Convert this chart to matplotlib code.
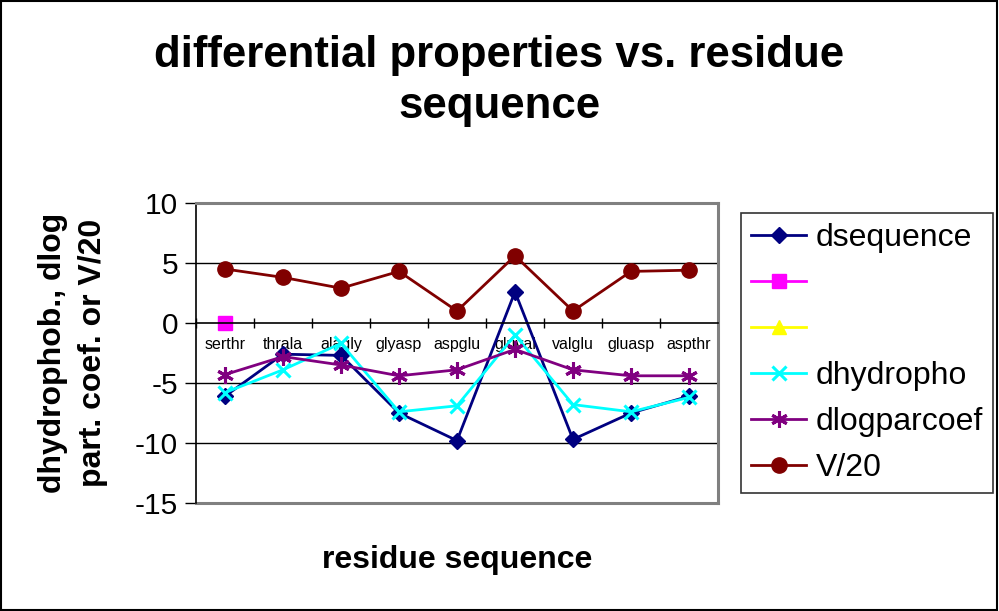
import numpy as np
import matplotlib
matplotlib.use('Agg')
import matplotlib.pyplot as plt
from matplotlib.patches import Rectangle

plt.rcParams['font.family'] = ['Liberation Sans', 'DejaVu Sans']
plt.rcParams['axes.unicode_minus'] = False

# данные
categories = ['serthr', 'thrala', 'alagly', 'glyasp', 'aspglu',
              'gluval', 'valglu', 'gluasp', 'aspthr']
dsequence = [-6.1, -2.6, -2.7, -7.5, -9.8, 2.6, -9.7, -7.5, -6.1]
magenta_vals = [0.0]          # только одна точка (serthr)
yellow_vals = []              # пустая серия
dhydropho = [-5.8, -3.9, -1.7, -7.4, -6.9, -1.0, -6.8, -7.4, -6.2]
dlogparcoef = [-4.3, -2.8, -3.5, -4.4, -3.9, -2.2, -3.9, -4.4, -4.4]
v20 = [4.5, 3.8, 2.9, 4.3, 1.0, 5.6, 1.0, 4.3, 4.4]
yticks = [-15, -10, -5, 0, 5, 10]

x = np.arange(len(categories))

fig = plt.figure(figsize=(9.99, 6.11), dpi=100)
ax = fig.add_axes([196/999, 1 - 503/611, 522/999, 300/611])

lw = 2.0
h1, = ax.plot(x, dsequence, color='#000080', marker='D', markersize=8, lw=lw, label='dsequence')
h2, = ax.plot(x[:len(magenta_vals)], magenta_vals, color='#FF00FF', marker='s', markersize=10, lw=lw, label='')
h3, = ax.plot(x[:len(yellow_vals)], yellow_vals, color='#FFFF00', marker='^', markersize=10, lw=lw, label='')
h4, = ax.plot(x, dhydropho, color='#00FFFF', marker='x', markersize=10, mew=2.2, lw=lw, label='dhydropho')
h5, = ax.plot(x, dlogparcoef, color='#800080', marker=(6, 2, 0), markersize=12, mew=2.2, lw=lw, label='dlogparcoef')
h6, = ax.plot(x, v20, color='#800000', marker='o', markersize=11, lw=lw, label='V/20')

ax.set_xlim(-0.5, len(categories) - 0.5)
ax.set_ylim(-15, 10)
ax.set_yticks(yticks)
ax.tick_params(axis='y', labelsize=21.5, length=8, width=1, direction='out', pad=5)

# категории подписываются у линии y=0
ax.spines['bottom'].set_position(('data', 0))
ax.set_xticks(np.arange(-0.5, len(categories)), labels=[''] * (len(categories) + 1))
ax.set_xticks(x, labels=categories, minor=True)
ax.tick_params(axis='x', which='major', direction='inout', length=7, width=1)
ax.tick_params(axis='x', which='minor', length=0, labelsize=11.5, pad=10)

for g in [5, -5, -10]:
    ax.axhline(g, color='black', lw=1, zorder=0)

for s in ['top', 'right']:
    ax.spines[s].set_color('#808080')
    ax.spines[s].set_linewidth(2.2)
ax.spines['bottom'].set_linewidth(1.2)
ax.spines['left'].set_linewidth(1.2)
ax.plot([0, 1], [0, 0], transform=ax.transAxes, color='#808080', lw=2.2, clip_on=False)

fig.text(0.5, 1 - 81/611, 'differential properties vs. residue\nsequence',
         ha='center', va='center', fontsize=31.5, fontweight='bold', linespacing=1.3)
fig.text(73/999, 1 - 353/611, 'dhydrophob., dlog\npart. coef. or V/20',
         ha='center', va='center', rotation=90, fontsize=23, fontweight='bold', linespacing=1.45)
fig.text(457/999, 1 - 560/611, 'residue sequence',
         ha='center', va='center', fontsize=23, fontweight='bold')

leg = fig.legend([h1, h2, h3, h4, h5, h6],
                 ['dsequence', '', '', 'dhydropho', 'dlogparcoef', 'V/20'],
                 loc='center left', bbox_to_anchor=(741/999, 1 - 353/611),
                 fontsize=23, frameon=True, fancybox=False, edgecolor='black',
                 handlelength=1.75, handletextpad=0.3, labelspacing=0.5,
                 borderpad=0.3, borderaxespad=0)
leg.get_frame().set_linewidth(1.2)

fig.add_artist(Rectangle((0.001, 0.002), 0.997, 0.996, transform=fig.transFigure,
                         fill=False, edgecolor='black', lw=1.5))

plt.savefig('out.png', dpi=100)
